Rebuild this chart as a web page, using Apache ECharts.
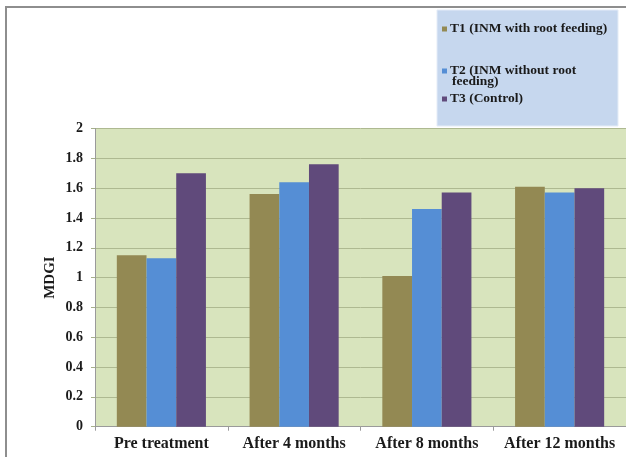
<!DOCTYPE html>
<html>
<head>
<meta charset="utf-8">
<script src="https://cdn.jsdelivr.net/npm/echarts@6/dist/echarts.min.js"></script>
<style>
  html, body { margin: 0; padding: 0; background: #ffffff; }
  #chart { width: 626px; height: 457px; }
</style>
</head>
<body>
<div id="chart"></div>
<script>
// Mean diameter growth index per sampling stage and treatment
const categories = ['Pre treatment', 'After 4 months', 'After 8 months', 'After 12 months'];
const seriesNames = ['T1 (INM with root feeding)', 'T2 (INM without root feeding)', 'T3 (Control)'];
const t1Values = [1.15, 1.56, 1.01, 1.61];
const t2Values = [1.13, 1.64, 1.46, 1.57];
const t3Values = [1.70, 1.76, 1.57, 1.60];
const yTicks = { min: 0, max: 2, interval: 0.2 };

const colors = ['#938953', '#558ed5', '#604a7b'];
const serif = '"Liberation Serif", "Times New Roman", serif';

const chart = echarts.init(document.getElementById('chart'), null, { renderer: 'canvas' });

function bar(name, data, color) {
  return {
    name: name,
    type: 'bar',
    data: data,
    barWidth: 29.7,
    barGap: '0%',
    itemStyle: { color: color },
    emphasis: { disabled: true }
  };
}

function legendFor(name, top) {
  return {
    data: [name],
    left: 442,
    top: top,
    z: 20,
    itemWidth: 5,
    itemHeight: 5,
    itemGap: 0,
    icon: 'rect',
    padding: 0,
    formatter: function (n) {
      return n === seriesNames[1] ? 'T2 (INM without root' : n;
    },
    textStyle: { fontFamily: serif, fontWeight: 'bold', fontSize: 13.5, color: '#1a1a1a', padding: [0, 0, 0, -2] },
    selectedMode: false
  };
}

chart.setOption({
  animation: false,
  backgroundColor: '#ffffff',
  graphic: [
    {
      type: 'rect',
      shape: { x: 6, y: 7, width: 700, height: 500 },
      style: { fill: 'none', stroke: '#8e8e8e', lineWidth: 2 },
      z: 0
    },
    {
      type: 'rect',
      shape: { x: 437, y: 10, width: 181, height: 116 },
      style: { fill: '#c6d7ee', stroke: '#e4ecf7', lineWidth: 1 },
      z: 1
    },
    {
      type: 'text',
      left: 452,
      top: 75,
      style: { text: 'feeding)', font: 'bold 13.5px ' + serif, fill: '#1a1a1a' },
      z: 30
    }
  ],
  legend: [
    legendFor(seriesNames[0], 22),
    legendFor(seriesNames[1], 64),
    legendFor(seriesNames[2], 92)
  ],
  grid: {
    left: 95,
    top: 128.5,
    width: 535,
    height: 298.2,
    show: true,
    backgroundColor: '#d8e4bd',
    borderWidth: 0
  },
  xAxis: {
    type: 'category',
    data: categories,
    axisLine: { lineStyle: { color: '#9a9a9a', width: 1 } },
    axisTick: { show: true, length: 4, lineStyle: { color: '#9a9a9a' } },
    axisLabel: { interval: 0, margin: 9, fontFamily: serif, fontWeight: 'bold', fontSize: 16, color: '#1a1a1a' }
  },
  yAxis: {
    type: 'value',
    min: yTicks.min,
    max: yTicks.max,
    interval: yTicks.interval,
    name: 'MDGI',
    nameLocation: 'middle',
    nameGap: 37,
    nameMoveOverlap: false,
    nameTextStyle: { fontFamily: serif, fontWeight: 'bold', fontSize: 15, color: '#1a1a1a' },
    axisLine: { show: true, lineStyle: { color: '#9a9a9a', width: 1 } },
    axisTick: { show: true, length: 4, lineStyle: { color: '#a6b08c' } },
    axisLabel: {
      margin: 12,
      fontFamily: serif,
      fontWeight: 'bold',
      fontSize: 14,
      color: '#1a1a1a',
      formatter: function (v) { return String(Math.round(v * 10) / 10); }
    },
    splitLine: { show: true, lineStyle: { color: '#aeb991', width: 1 } }
  },
  series: [
    bar(seriesNames[0], t1Values, colors[0]),
    bar(seriesNames[1], t2Values, colors[1]),
    bar(seriesNames[2], t3Values, colors[2])
  ]
});
</script>
</body>
</html>
